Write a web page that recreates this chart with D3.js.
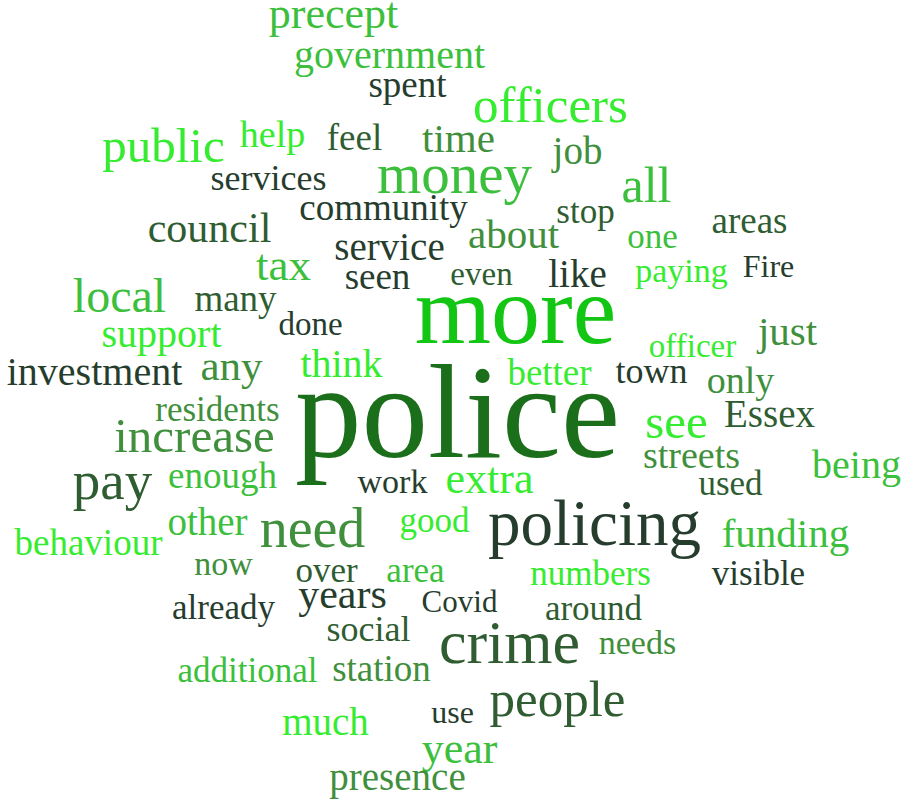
<!DOCTYPE html>
<html>
<head>
<meta charset="utf-8">
<script src="https://cdn.jsdelivr.net/npm/d3@7"></script>
<style>
  html, body { margin: 0; padding: 0; background: #fff; }
  #chart text { font-family: "Liberation Serif", "Times New Roman", serif; }
</style>
</head>
<body>
<div id="chart"></div>
<script>
// word frequencies (weights)
const words = [
  'police', 'more', 'policing', 'crime', 'money', 'need', 'pay', 'people', 'officers', 'all',
  'public', 'increase', 'see', 'local', 'tax', 'precept', 'year', 'extra', 'any', 'council',
  'years', 'just', 'funding', 'time', 'about', 'think', 'support', 'government', 'being', 'investment',
  'much', 'presence', 'service', 'like', 'Essex', 'job', 'other', 'only', 'help', 'streets',
  'feel', 'enough', 'community', 'station', 'behaviour', 'spent', 'better', 'areas', 'seen', 'many',
  'town', 'services', 'social', 'residents', 'additional', 'stop', 'one', 'numbers', 'used', 'good',
  'over', 'area', 'visible', 'already', 'around', 'paying', 'work', 'now', 'needs', 'done',
  'officer', 'even', 'Fire', 'use', 'Covid'
];
const counts = [
  133, 98, 65, 62, 57, 56, 55, 51, 51, 50,
  49, 49, 49, 48, 45, 44, 44, 44, 43, 42,
  42, 41, 41, 41, 41, 40, 40, 40, 40, 40,
  39, 39, 39, 39, 39, 39, 39, 38, 38, 38,
  37, 37, 37, 37, 37, 37, 37, 37, 37, 37,
  36, 36, 36, 35, 35, 35, 35, 35, 35, 35,
  35, 35, 35, 35, 35, 34, 34, 34, 34, 33,
  33, 33, 32, 32, 31
];

// placement returned by the cloud layout, relative to the cloud centre
const layout = [
  [6, 57], [64, -57], [143, 145], [58, 263], [3, -207], [-139, 147], [-339, 99], [106, 316], [99, -278], [195, -198],
  [-288, -238], [-257, 52], [225, 38], [-332, -88], [-168, -120], [-118, -372], [8, 363], [38, 93], [-220, -20], [-242, -158],
  [-109, 208], [336, -55], [334, 147], [7, -248], [62, -152], [-110, -23], [-290, -53], [-62, -332], [405, 78], [-357, -15],
  [-126, 335], [-54, 390], [-62, -140], [126, -113], [318, 27], [126, -236], [-244, 135], [289, -7], [-179, -253], [240, 68],
  [-97, -250], [-229, 88], [-68, -180], [-70, 281], [-363, 155], [-44, -303], [98, -15], [298, -167], [-74, -111], [-216, -89],
  [200, -17], [-183, -210], [-83, 241], [-234, 21], [-204, 282], [134, -177], [201, -152], [139, 185], [279, 95], [-17, 132],
  [-125, 182], [-36, 182], [307, 185], [-228, 219], [142, 220], [230, -118], [-59, 93], [-228, 175], [186, 254], [-141, -65],
  [241, -43], [30, -115], [317, -123], [1, 323], [8, 212]
];

// colour picked for each word from the green palette
const palette = {
  police: '#1b6f1b', more: '#14c614', dark: '#263d2e', deep: '#2f5d31',
  mid: '#3f8f3c', green: '#3cbf3c', lime: '#36ec30'
};
const wordColors = [
  'police', 'more', 'dark', 'deep', 'green', 'mid', 'deep', 'deep', 'lime', 'green',
  'lime', 'mid', 'lime', 'green', 'green', 'green', 'green', 'lime', 'mid', 'deep',
  'dark', 'mid', 'green', 'mid', 'mid', 'lime', 'lime', 'green', 'green', 'dark',
  'lime', 'mid', 'dark', 'dark', 'deep', 'mid', 'green', 'mid', 'lime', 'mid',
  'deep', 'green', 'dark', 'mid', 'lime', 'dark', 'lime', 'deep', 'dark', 'deep',
  'dark', 'dark', 'deep', 'mid', 'green', 'deep', 'green', 'lime', 'deep', 'lime',
  'deep', 'green', 'dark', 'dark', 'deep', 'lime', 'dark', 'mid', 'mid', 'dark',
  'lime', 'deep', 'dark', 'dark', 'dark'
];

const width = 903;
const height = 800;

const cloud = words.map((w, i) => ({
  text: w,
  count: counts[i],
  x: layout[i][0],
  y: layout[i][1],
  color: palette[wordColors[i]]
}));

const sizeScale = d3.scaleLinear()
  .domain([d3.min(counts), d3.max(counts)])
  .range([31, 133]);

const xScale = d3.scaleLinear().domain([-width / 2, width / 2]).range([0, width]);
const yScale = d3.scaleLinear().domain([-height / 2, height / 2]).range([0, height]);

const svg = d3.select('#chart')
  .append('svg')
  .attr('width', width)
  .attr('height', height)
  .attr('viewBox', `0 0 ${width} ${height}`);

svg.append('g')
  .attr('class', 'words')
  .selectAll('text')
  .data(cloud)
  .join('text')
  .attr('text-anchor', 'middle')
  .attr('x', (d) => xScale(d.x))
  .attr('y', (d) => yScale(d.y))
  .style('font-size', (d) => sizeScale(d.count) + 'px')
  .attr('fill', (d) => d.color)
  .text((d) => d.text);
</script>
</body>
</html>
